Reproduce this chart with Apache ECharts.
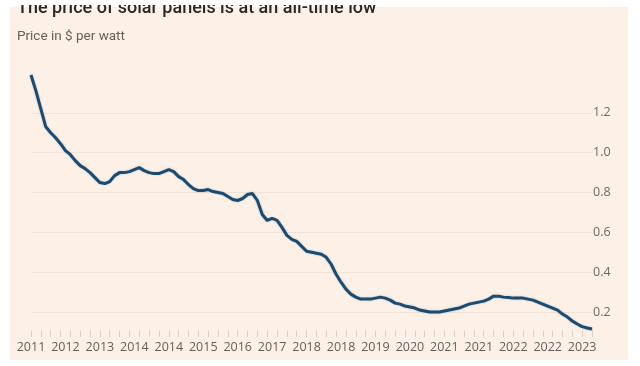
<!DOCTYPE html>
<html>
<head>
<meta charset="utf-8">
<script src="https://cdn.jsdelivr.net/npm/echarts@6/dist/echarts.min.js"></script>
<style>
html,body{margin:0;padding:0;background:#ffffff;}
#chart{width:640px;height:366px;}
</style>
</head>
<body>
<div id="chart"></div>
<script>
// Year tick labels (one every 7 data points along the x axis)
var yearLabels = ['2011','2012','2013','2014','2014','2015','2016','2017','2018','2018','2019','2020','2021','2021','2022','2022','2023'];

// Solar panel price, $ per watt (evenly spaced samples)
var priceValues = [
  1.39, 1.31, 1.22, 1.13, 1.10, 1.075, 1.045, 1.01, 0.99, 0.96,
  0.935, 0.92, 0.90, 0.875, 0.85, 0.845, 0.855, 0.885, 0.90, 0.90,
  0.905, 0.915, 0.925, 0.91, 0.90, 0.895, 0.895, 0.905, 0.915, 0.905,
  0.88, 0.865, 0.84, 0.82, 0.81, 0.81, 0.815, 0.805, 0.80, 0.795,
  0.78, 0.765, 0.76, 0.77, 0.79, 0.795, 0.76, 0.69, 0.66, 0.67,
  0.66, 0.625, 0.585, 0.565, 0.555, 0.53, 0.505, 0.50, 0.495, 0.49,
  0.475, 0.44, 0.39, 0.35, 0.315, 0.29, 0.275, 0.265, 0.265, 0.265,
  0.27, 0.275, 0.27, 0.26, 0.245, 0.24, 0.23, 0.225, 0.22, 0.21,
  0.205, 0.20, 0.20, 0.20, 0.205, 0.21, 0.215, 0.22, 0.23, 0.24,
  0.245, 0.25, 0.255, 0.265, 0.28, 0.28, 0.275, 0.273, 0.27, 0.27,
  0.27, 0.265, 0.26, 0.25, 0.24, 0.23, 0.22, 0.21, 0.19, 0.175,
  0.155, 0.14, 0.127, 0.12, 0.115
];

var categories = priceValues.map(function (v, i) { return String(i); });

var chart = echarts.init(document.getElementById('chart'), null, {renderer: 'canvas'});
chart.setOption({
  animation: false,
  backgroundColor: '#ffffff',
  graphic: [
    {type: 'rect', z: -10, silent: true,
     shape: {x: 10, y: 7, width: 618, height: 353},
     style: {fill: '#fdf0e6'}},
    {type: 'rect', z: 100, silent: true,
     shape: {x: 0, y: 0, width: 640, height: 5},
     style: {fill: '#ffffff'}}
  ],
  title: [
    {text: 'The price of solar panels is at an all-time low', left: 17, top: -1, padding: 0,
     textStyle: {color: '#2b2826', fontSize: 18, fontWeight: 500, fontFamily: 'Roboto'}},
    {text: 'Price in $ per watt', left: 17, top: 30, padding: 0,
     textStyle: {color: '#66605c', fontSize: 13.5, fontWeight: 'normal', fontFamily: 'Roboto'}}
  ],
  grid: {left: 31, right: 48, top: 73, bottom: 36, containLabel: false},
  xAxis: {
    type: 'category',
    boundaryGap: false,
    data: categories,
    axisLine: {show: false, onZero: false},
    axisTick: {show: true, interval: 1, length: 7, lineStyle: {color: '#dccfc4', width: 1}},
    axisLabel: {
      interval: 6,
      margin: 11,
      color: '#655e5a',
      fontSize: 12.5,
      fontFamily: 'Open Sans',
      formatter: function (v, i) { return yearLabels[i / 7] || ''; }
    },
    splitLine: {show: false}
  },
  yAxis: {
    type: 'value',
    position: 'right',
    min: 0.11,
    max: 1.4,
    minInterval: 0.2,
    maxInterval: 0.2,
    splitNumber: 6,
    axisLine: {show: false},
    axisTick: {show: false},
    axisLabel: {
      showMinLabel: false,
      showMaxLabel: false,
      margin: 1,
      color: '#6e6863',
      fontSize: 12.5,
      fontFamily: 'Open Sans',
      formatter: function (v) { return v.toFixed(1); }
    },
    splitLine: {show: true, showMinLine: false, showMaxLine: false,
      lineStyle: {color: '#f0e2d6', width: 1}}
  },
  series: [{
    type: 'line',
    data: priceValues,
    showSymbol: false,
    smooth: false,
    clip: false,
    lineStyle: {color: '#1d4a6d', width: 3,
      shadowColor: 'rgba(110,160,205,0.55)', shadowBlur: 2}
  }]
});
</script>
</body>
</html>
